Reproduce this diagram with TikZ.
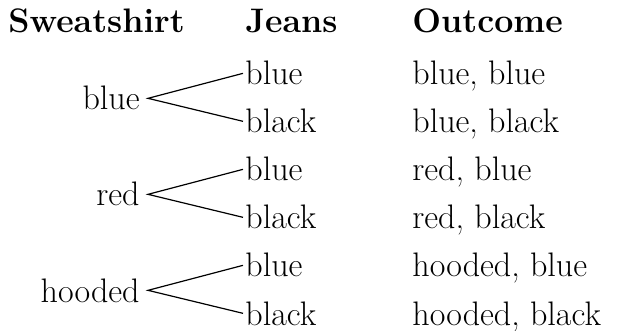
\documentclass[tikz,border=0pt]{standalone}
\begin{document}
\begin{tikzpicture}[x=0.5pt,y=-0.5pt,
  every node/.style={font=\fontsize{17}{20}\selectfont, inner ysep=0pt},
  head/.style={anchor=base west, inner xsep=0pt, font=\fontsize{17}{20}\selectfont\bfseries},
  root/.style={anchor=base east, inner xsep=4pt},
  leaf/.style={anchor=base west, inner xsep=1pt},
  outc/.style={anchor=base west, inner xsep=0pt},
  branch/.style={draw=black, line width=0.6pt}]
\useasboundingbox (0,0) rectangle (621,331);
\node[head] (h1) at (8,33) {Sweatshirt};
\node[head] (h2) at (245,33) {Jeans};
\node[head] (h3) at (412,33) {Outcome};
% groups
\node[root] (r1) at (148,110) {blue};
\node[root] (r2) at (148,206) {red};
\node[root] (r3) at (148,302) {hooded};
\node[leaf] (a1) at (243,85) {blue};
\node[leaf] (b1) at (243,133) {black};
\node[leaf] (a2) at (243,181) {blue};
\node[leaf] (b2) at (243,229) {black};
\node[leaf] (a3) at (243,277) {blue};
\node[leaf] (b3) at (243,325) {black};
\node[outc] (o1) at (412,85) {blue, blue};
\node[outc] (o2) at (412,133) {blue, black};
\node[outc] (o3) at (412,181) {red, blue};
\node[outc] (o4) at (412,229) {red, black};
\node[outc] (o5) at (412,277) {hooded, blue};
\node[outc] (o6) at (412,325) {hooded, black};
\draw[branch] (a1.west) -- (r1.east) -- (b1.west);
\draw[branch] (a2.west) -- (r2.east) -- (b2.west);
\draw[branch] (a3.west) -- (r3.east) -- (b3.west);
\end{tikzpicture}
\end{document}
